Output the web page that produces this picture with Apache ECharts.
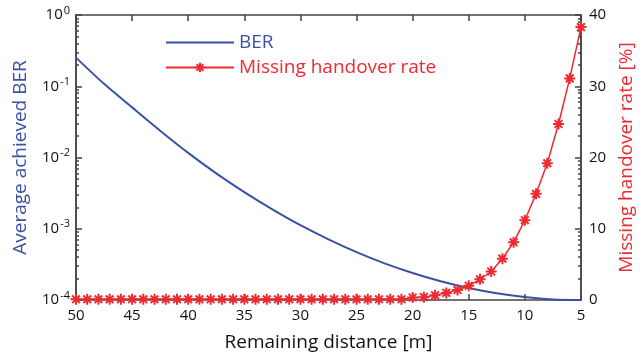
<!DOCTYPE html>
<html>
<head>
<meta charset="utf-8">
<script src="https://cdn.jsdelivr.net/npm/echarts@6/dist/echarts.min.js"></script>
<style>
  html, body { margin: 0; padding: 0; background: #fff; }
  #main { width: 644px; height: 361px; }
</style>
</head>
<body>
<div id="main"></div>
<script>
// remaining distance sampled for the BER curve (m)
const berDistance = [50, 47.5, 45, 42.5, 40, 37.5, 35, 32.5, 30, 27.5, 25, 22.5, 20, 17.5, 15, 12.5, 10, 7.5, 5]
const berValues = [0.252, 0.108, 0.0505, 0.0238, 0.0116, 0.00598, 0.00326, 0.00187, 0.00112, 0.000709, 0.00047,
  0.000327, 0.000239, 0.000183, 0.000147, 0.000124, 0.00011, 0.000102, 0.0001]

// missing handover rate, one marker per metre from 50 m to 5 m (%)
const handoverDistance = [50, 49, 48, 47, 46, 45, 44, 43, 42, 41, 40, 39, 38, 37, 36, 35, 34, 33, 32, 31,
  30, 29, 28, 27, 26, 25, 24, 23, 22, 21, 20, 19, 18, 17, 16, 15, 14, 13, 12, 11, 10, 9, 8, 7, 6, 5]
const handoverRate = [0.1, 0.1, 0.1, 0.1, 0.1, 0.1, 0.1, 0.1, 0.1, 0.1, 0.1, 0.1, 0.1, 0.1, 0.1, 0.1, 0.1, 0.1, 0.1, 0.1,
  0.1, 0.1, 0.1, 0.1, 0.1, 0.1, 0.1, 0.1, 0.1, 0.1, 0.35, 0.4, 0.65, 1.0, 1.4, 2.0, 2.9, 4.0, 5.8, 8.1, 11.2, 14.9, 19.2, 24.7, 31.1, 38.3]

// axis ticks
const berDecades = [-4, -3, -2, -1, 0]

const blue = '#3a52a3'
const red = '#ee2a30'
const axisGray = '#444'
const font = 'Open Sans'

// minor ticks of the log axis at 2..9 x 10^n, in log10 units
const minorLog = []
berDecades.slice(0, -1).forEach(n => {
  for (let k = 2; k <= 9; k++) minorLog.push(n + Math.log10(k))
})

const asterisk = 'path://M0,-10L0,10M-10,0L10,0M-7,-7L7,7M-7,7L7,-7'

const chartDom = document.getElementById('main')
const myChart = echarts.init(chartDom)

const minorAxis = (pos) => ({
  type: 'value',
  position: pos,
  min: -4,
  max: 0,
  axisLine: { show: true, lineStyle: { color: axisGray, width: 1.5 } },
  axisLabel: { show: false, customValues: minorLog },
  splitLine: { show: false },
  axisTick: {
    show: true,
    inside: true,
    length: 3,
    customValues: minorLog,
    lineStyle: { color: axisGray, width: 1.5 }
  }
})

const option = {
  animation: false,
  grid: { left: 76, right: 52, top: 15, bottom: 61 },
  legend: {
    orient: 'vertical',
    left: 160,
    top: 28,
    itemWidth: 68,
    itemHeight: 12,
    itemGap: 6,
    textStyle: { fontFamily: font, fontSize: 19 },
    data: [
      { name: 'BER', textStyle: { color: blue }, itemStyle: { opacity: 0 } },
      { name: 'Missing handover rate', textStyle: { color: red } }
    ]
  },
  xAxis: [
    {
      type: 'value',
      inverse: true,
      min: 5,
      max: 50,
      interval: 5,
      name: 'Remaining distance [m]',
      nameLocation: 'middle',
      nameGap: 33,
      nameTextStyle: { fontFamily: font, fontSize: 19, color: '#111' },
      axisLine: { show: true, lineStyle: { color: axisGray, width: 1.5 } },
      axisTick: { show: true, inside: true, length: 6, lineStyle: { color: axisGray, width: 1.5 } },
      axisLabel: { fontFamily: font, fontSize: 15, color: '#111', margin: 8 },
      splitLine: { show: false }
    },
    {
      type: 'value',
      inverse: true,
      position: 'top',
      min: 5,
      max: 50,
      interval: 5,
      axisLine: { show: true, lineStyle: { color: axisGray, width: 1.5 } },
      axisTick: { show: true, inside: true, length: 6, lineStyle: { color: axisGray, width: 1.5 } },
      axisLabel: { show: false },
      splitLine: { show: false }
    }
  ],
  yAxis: [
    {
      type: 'log',
      logBase: 10,
      min: 1e-4,
      max: 1,
      position: 'left',
      name: 'Average achieved BER',
      nameLocation: 'middle',
      nameGap: 46,
      nameTextStyle: { fontFamily: font, fontSize: 19, color: blue },
      axisLine: { show: true, lineStyle: { color: axisGray, width: 1.5 } },
      axisTick: { show: true, inside: true, length: 6, lineStyle: { color: axisGray, width: 1.5 } },
      axisLabel: {
        margin: 6,
        formatter: v => '{b|10}{s|' + Math.round(Math.log10(v)) + '}',
        rich: {
          b: { fontFamily: font, fontSize: 15, color: '#111' },
          s: { fontFamily: font, fontSize: 11, color: '#111', padding: [0, 0, 9, 1] }
        }
      },
      splitLine: { show: false }
    },
    {
      type: 'value',
      min: 0,
      max: 40,
      interval: 10,
      position: 'right',
      name: 'Missing handover rate [%]',
      nameLocation: 'middle',
      nameGap: 30,
      nameRotate: 90,
      nameTextStyle: { fontFamily: font, fontSize: 19, color: red },
      axisLine: { show: true, lineStyle: { color: axisGray, width: 1.5 } },
      axisTick: { show: true, inside: true, length: 6, lineStyle: { color: axisGray, width: 1.5 } },
      axisLabel: { fontFamily: font, fontSize: 15, color: '#111', margin: 8 },
      splitLine: { show: false }
    },
    minorAxis('left'),
    minorAxis('right')
  ],
  series: [
    {
      name: 'BER',
      type: 'line',
      xAxisIndex: 0,
      yAxisIndex: 0,
      smooth: 0.3,
      showSymbol: false,
      lineStyle: { color: blue, width: 2 },
      itemStyle: { color: blue },
      data: berDistance.map((d, i) => [d, berValues[i]]),
      z: 2
    },
    {
      name: 'Missing handover rate',
      type: 'line',
      xAxisIndex: 0,
      yAxisIndex: 1,
      symbol: asterisk,
      symbolSize: 11,
      showAllSymbol: true,
      lineStyle: { color: red, width: 1.5 },
      itemStyle: { color: red, borderColor: red, borderWidth: 2 },
      data: handoverDistance.map((d, i) => [d, handoverRate[i]]),
      z: 3
    }
  ]
}

option && myChart.setOption(option)
</script>
</body>
</html>
